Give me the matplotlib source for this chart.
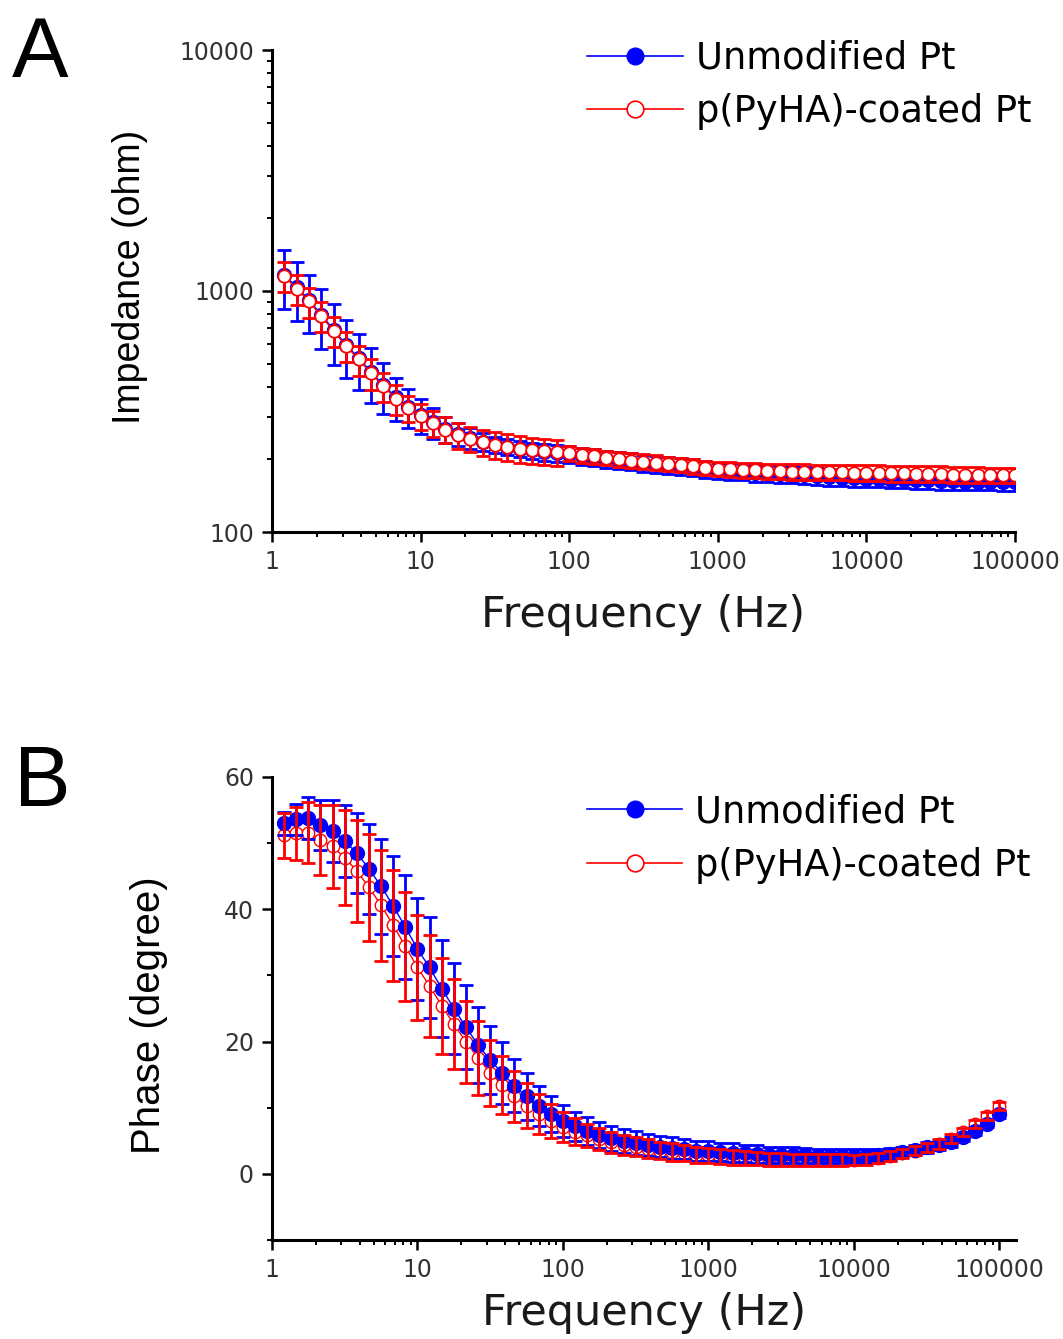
import matplotlib
matplotlib.use('Agg')
import matplotlib.pyplot as plt
from matplotlib.lines import Line2D
from matplotlib.ticker import FixedLocator, LogLocator, NullFormatter, FixedFormatter

# Frequencies (Hz), 12 points per decade
freq = [1.21, 1.47, 1.78, 2.15, 2.61, 3.16, 3.83, 4.64, 5.62, 6.81, 8.25, 10.0,
        12.1, 14.7, 17.8, 21.5, 26.1, 31.6, 38.3, 46.4, 56.2, 68.1, 82.5, 100,
        121, 147, 178, 215, 261, 316, 383, 464, 562, 681, 825, 1000,
        1210, 1470, 1780, 2150, 2610, 3160, 3830, 4640, 5620, 6810, 8250, 10000,
        12100, 14700, 17800, 21500, 26100, 31600, 38300, 46400, 56200, 68100, 82500, 100000]

# Impedance (ohm)
z_bare = [1164, 1035, 918, 795, 689, 597, 527, 461, 407, 363, 330, 306,
          285, 268, 255, 245, 237, 231, 226, 222, 218, 215, 212, 210,
          207, 204, 201, 198, 196, 193, 191, 189, 187, 185, 182, 180,
          179, 178, 176, 175, 174, 173, 172, 170, 169, 168, 167, 166,
          166, 165, 165, 164, 164, 163, 163, 162, 162, 162, 161, 161]
z_bare_sd = [319, 287, 246, 220, 194, 160, 139, 119, 97, 73, 61, 51,
             41, 33, 27, 24, 20, 18, 17, 17, 17, 17, 17, 17,
             17, 16, 16, 16, 16, 15, 15, 15, 15, 15, 15, 14,
             14, 14, 14, 14, 14, 14, 14, 14, 14, 13, 13, 13,
             13, 13, 13, 13, 13, 13, 13, 13, 13, 13, 13, 13]
z_coat = [1150, 1020, 905, 785, 680, 590, 520, 455, 402, 358, 326, 302,
          282, 266, 253, 244, 236, 230, 226, 222, 219, 216, 214, 212,
          209, 206, 203, 200, 198, 196, 194, 192, 190, 187, 185, 183,
          182, 181, 180, 179, 179, 178, 178, 177, 177, 177, 176, 176,
          176, 175, 175, 174, 174, 174, 173, 173, 173, 172, 172, 172]
z_coat_sd = [164, 146, 129, 112, 97, 84, 74, 65, 57, 51, 40, 37,
             35, 33, 31, 30, 29, 29, 28, 28, 27, 27, 27, 15,
             15, 14, 14, 14, 14, 14, 14, 13, 13, 13, 13, 13,
             13, 13, 13, 13, 13, 13, 13, 13, 13, 13, 13, 13,
             13, 13, 13, 13, 13, 13, 13, 13, 13, 13, 13, 13]

# Phase (degree)
ph_bare = [53.0, 53.6, 53.8, 52.7, 51.8, 50.3, 48.5, 46.1, 43.5, 40.5, 37.3, 34.0,
           31.2, 28.0, 25.0, 22.2, 19.5, 17.2, 15.2, 13.3, 11.7, 10.3, 9.0, 8.0,
           7.2, 6.5, 5.9, 5.4, 5.0, 4.7, 4.4, 4.1, 3.9, 3.7, 3.5, 3.4,
           3.3, 3.2, 3.1, 3.0, 2.9, 2.9, 2.8, 2.8, 2.7, 2.7, 2.7, 2.7,
           2.7, 2.8, 3.0, 3.3, 3.6, 4.0, 4.3, 4.8, 5.5, 6.5, 7.6, 9.0]
ph_bare_sd = [1.7, 2.3, 3.2, 3.8, 4.7, 5.4, 6.0, 6.8, 7.2, 7.5, 7.9, 7.7,
              7.7, 7.3, 6.9, 6.3, 5.7, 5.2, 4.7, 4.0, 3.5, 3.0, 2.7, 2.4,
              2.2, 2.1, 2.0, 1.9, 1.8, 1.8, 1.7, 1.6, 1.6, 1.5, 1.5, 1.5,
              1.4, 1.4, 1.3, 1.3, 1.2, 1.2, 1.2, 1.1, 1.1, 1.1, 1.0, 1.0,
              1.0, 0.9, 0.9, 0.8, 0.8, 0.8, 0.7, 0.7, 0.6, 0.6, 0.5, 0.5]
ph_coat = [51.2, 51.5, 51.6, 50.5, 49.5, 47.8, 45.8, 43.3, 40.6, 37.6, 34.4, 31.2,
           28.4, 25.4, 22.6, 20.0, 17.5, 15.3, 13.4, 11.7, 10.3, 9.1, 8.0, 7.1,
           6.4, 5.8, 5.3, 4.8, 4.4, 4.1, 3.8, 3.5, 3.3, 3.1, 2.9, 2.8,
           2.6, 2.5, 2.4, 2.3, 2.2, 2.2, 2.1, 2.1, 2.1, 2.1, 2.1, 2.1,
           2.2, 2.4, 2.7, 3.1, 3.5, 4.0, 4.5, 5.3, 6.3, 7.6, 8.8, 10.3]
ph_coat_sd = [3.4, 4.0, 4.6, 5.3, 6.3, 7.2, 7.7, 8.1, 8.4, 8.4, 8.2, 8.0,
              7.7, 7.3, 6.8, 6.2, 5.6, 5.0, 4.4, 3.9, 3.4, 3.0, 2.6, 2.3,
              2.0, 1.8, 1.7, 1.6, 1.5, 1.4, 1.4, 1.3, 1.3, 1.2, 1.2, 1.1,
              1.1, 1.1, 1.0, 1.0, 1.0, 1.0, 0.9, 0.9, 0.9, 0.9, 0.9, 0.8,
              0.8, 0.8, 0.8, 0.7, 0.7, 0.7, 0.7, 0.7, 0.6, 0.6, 0.6, 0.6]

labels = ['Unmodified Pt', 'p(PyHA)-coated Pt']
x_ticks = [1, 10, 100, 1000, 10000, 100000]
x_ticklabels = ['1', '10', '100', '1000', '10000', '100000']

BLUE = '#0000ff'
RED = '#ff0000'
TICK_COLOR = '#333333'
MS = 10
BAR_KW = dict(fmt='none', elinewidth=2.0, capsize=4.8, capthick=2.0)


def style_axis(ax, labelpad):
    for side in ('top', 'right'):
        ax.spines[side].set_visible(False)
    for side in ('left', 'bottom'):
        ax.spines[side].set_linewidth(2.2)
    ax.tick_params(which='major', direction='out', length=7, width=1.8,
                   labelsize=17, labelcolor=TICK_COLOR, pad=6)
    ax.tick_params(which='minor', direction='out', length=3.5, width=1.4)
    ax.set_xscale('log')
    ax.xaxis.set_major_locator(FixedLocator(x_ticks))
    ax.xaxis.set_major_formatter(FixedFormatter(x_ticklabels))
    ax.xaxis.set_minor_locator(LogLocator(base=10, subs=range(2, 10), numticks=20))
    ax.xaxis.set_minor_formatter(NullFormatter())
    ax.set_xlabel('Frequency (Hz)', fontsize=31, color='#1a1a1a', labelpad=labelpad)


def add_legend(ax, anchor):
    handles = [
        Line2D([], [], color=BLUE, lw=1.2, marker='o', ms=12, mfc=BLUE, mec=BLUE),
        Line2D([], [], color=RED, lw=1.2, marker='o', ms=12, mfc='white', mec=RED, mew=1.2),
    ]
    ax.legend(handles, labels, loc='upper left', bbox_to_anchor=anchor, frameon=False,
              fontsize=26.5, handlelength=2.6, handletextpad=0.35, labelspacing=0.45,
              borderpad=0, borderaxespad=0)


fig = plt.figure(figsize=(10.63, 13.39), dpi=100)
ax_a = fig.add_axes([272 / 1063, 1 - 532 / 1339, 743 / 1063, 482 / 1339])
ax_b = fig.add_axes([272 / 1063, 1 - 1240 / 1339, 744 / 1063, 463 / 1339])

# Panel A: impedance magnitude
ax_a.errorbar(freq, z_bare, yerr=z_bare_sd, color=BLUE, zorder=2, **BAR_KW)
ax_a.plot(freq, z_bare, color=BLUE, lw=1.0, marker='o', ms=MS, mfc=BLUE, mec=BLUE, zorder=3)
ax_a.errorbar(freq, z_coat, yerr=z_coat_sd, color=RED, zorder=4, **BAR_KW)
ax_a.plot(freq, z_coat, color=RED, lw=1.0, marker='o', ms=MS - 1, mfc='white', mec=RED,
          mew=1.3, zorder=5)
style_axis(ax_a, 14)
ax_a.set_yscale('log')
ax_a.set_ylim(100, 10000)
ax_a.set_xlim(1, 100000)
ax_a.yaxis.set_major_locator(FixedLocator([100, 1000, 10000]))
ax_a.yaxis.set_major_formatter(FixedFormatter(['100', '1000', '10000']))
ax_a.yaxis.set_minor_locator(LogLocator(base=10, subs=range(2, 10), numticks=20))
ax_a.yaxis.set_minor_formatter(NullFormatter())
ax_a.set_ylabel('Impedance (ohm)', fontsize=27, family=['Liberation Sans', 'DejaVu Sans'])
ax_a.yaxis.set_label_coords(-0.167, 0.529)
add_legend(ax_a, (0.424, 1.022))

# Panel B: phase
ax_b.plot(freq, ph_coat, color=RED, lw=1.0, marker='o', ms=MS - 1, mfc='white', mec=RED,
          mew=1.0, zorder=2)
ax_b.errorbar(freq, ph_bare, yerr=ph_bare_sd, color=BLUE, zorder=3, **BAR_KW)
ax_b.plot(freq, ph_bare, color=BLUE, lw=1.0, marker='o', ms=MS, mfc=BLUE, mec=BLUE, zorder=4)
ax_b.errorbar(freq, ph_coat, yerr=ph_coat_sd, color=RED, zorder=5, **BAR_KW)
style_axis(ax_b, 7)
ax_b.set_xlim(1, 1.3e5)
ax_b.set_ylim(-10, 60)
ax_b.yaxis.set_major_locator(FixedLocator([0, 20, 40, 60]))
ax_b.yaxis.set_minor_locator(FixedLocator([-10, 10, 30, 50]))
ax_b.set_ylabel('Phase (degree)', fontsize=29, family=['Liberation Sans', 'DejaVu Sans'])
ax_b.yaxis.set_label_coords(-0.14, 0.486)
add_legend(ax_b, (0.423, 0.965))

fig.text(12 / 1063, 1 - 77 / 1339, 'A', fontsize=61, family=['Liberation Sans', 'DejaVu Sans'],
         va='baseline', ha='left')
fig.text(14 / 1063, 1 - 806 / 1339, 'B', fontsize=61, family=['Liberation Sans', 'DejaVu Sans'],
         va='baseline', ha='left')

fig.savefig('out.png', dpi=100)
plt.close(fig)
